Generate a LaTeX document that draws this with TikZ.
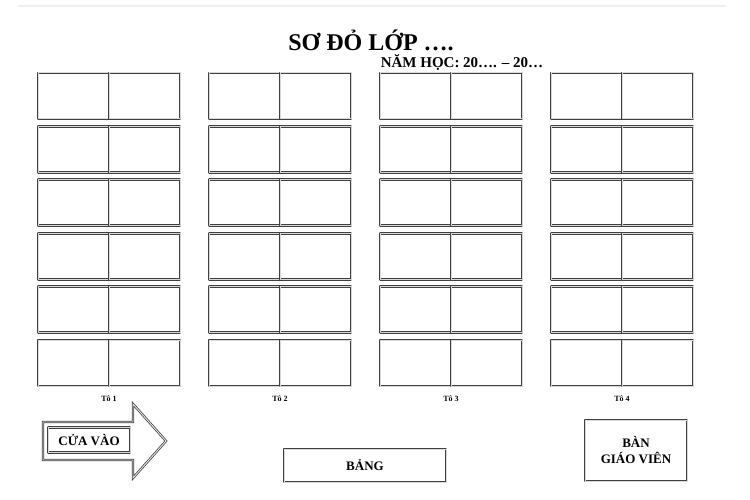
\documentclass[tikz,border=0pt]{standalone}
\usepackage{fontspec}
\setmainfont{Liberation Serif}[BoldFont={Liberation Serif Bold}]
\usepackage{tikz}
\usetikzlibrary{calc}

\begin{document}
\begin{tikzpicture}[
    x=1pt, y=-1pt,
    seat/.style={draw=gray!50!black, double=gray!30, double distance=1pt, line width=0.85pt, line join=round, minimum width=71pt, minimum height=46pt, inner sep=0pt},
    framebox/.style={draw=gray!50!black, double=gray!30, double distance=1pt, line width=0.9pt, line join=round, align=center, inner sep=0pt},
    bigtext/.style={font=\bfseries\fontsize{13}{16}\selectfont},
    grouplabel/.style={font=\bfseries\fontsize{8}{9}\selectfont}
]
\useasboundingbox (0,0) rectangle (750,500);

% page edge
\draw[gray!12, line width=2pt] (18,6) -- (726,6);

% Title
\node[font=\bfseries\fontsize{24}{26}\selectfont, anchor=base] (title) at (371,51) {SƠ ĐỎ LỚP ….};
\node[font=\bfseries\fontsize{15}{17}\selectfont, anchor=base] (year) at (462,68) {NĂM HỌC: 20…. – 20…};

% Desks: 4 groups x 6 rows, two seats each
\foreach \g/\gx in {1/38, 2/209, 3/380, 4/551} {
  \foreach \r in {0,...,5} {
    \node[seat] (s\g-\r-a) at (\gx+35.5, 96+53.4*\r) {};
    \node[seat] (s\g-\r-b) at (\gx+106.5, 96+53.4*\r) {};
  }
  \node[grouplabel] (to\g) at (\gx+71, 399) {Tô \g};
}

% Bottom left: door arrow
\coordinate (arrA) at (43,422);
\coordinate (arrB) at (133,422);
\coordinate (arrC) at (133,404);
\coordinate (arrTip) at (166,441);
\coordinate (arrD) at (133,478);
\coordinate (arrE) at (133,460);
\coordinate (arrF) at (43,460);
\draw[draw=gray!50!black, double=gray!20, double distance=0.9pt, line width=0.75pt, line join=miter]
  (arrA) -- (arrB) -- (arrC) -- (arrTip) -- (arrD) -- (arrE) -- (arrF) -- cycle;
\node[framebox, bigtext, fill=white, minimum width=82pt, minimum height=25pt] (door) at (89,440) {CỬA VÀO};

% Bottom middle: board
\node[framebox, bigtext, minimum width=162pt, minimum height=33pt] (board) at (365,465.5) {BẢNG};

% Bottom right: teacher desk
\node[framebox, bigtext, minimum width=102pt, minimum height=61pt] (teacher) at (636,450.5) {BÀN\\GIÁO VIÊN};

\end{tikzpicture}
\end{document}
